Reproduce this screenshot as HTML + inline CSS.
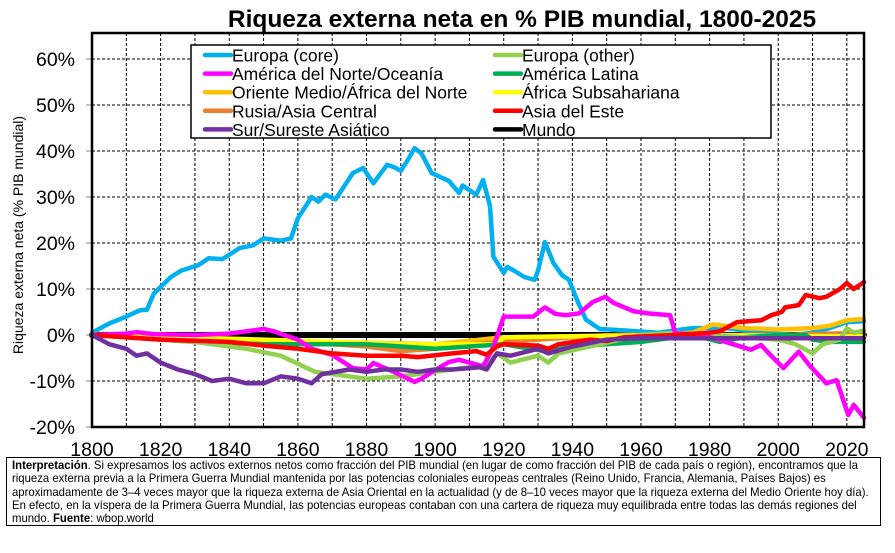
<!DOCTYPE html>
<html><head><meta charset="utf-8">
<style>
html,body{margin:0;padding:0;background:#fff;width:895px;height:553px;overflow:hidden}
svg{position:absolute;left:0;top:0}
text{font-family:"Liberation Sans",sans-serif}
#note{position:absolute;left:6px;top:457px;width:875px;height:69px;border:1.5px solid #000;box-sizing:border-box;overflow:hidden}
#noteInner{position:absolute;left:5px;top:1px;width:940px;transform-origin:0 0;transform:scaleX(0.945);font-family:"Liberation Sans",sans-serif;font-size:12px;line-height:13.3px;color:#000;white-space:nowrap}
</style></head>
<body>
<svg id="chart" width="895" height="553"></svg>
<div id="note"><div id="noteInner"><b>Interpretación</b>. Si expresamos los activos externos netos como fracción del PIB mundial (en lugar de como fracción del PIB de cada país o región), encontramos que la<br>riqueza externa previa a la Primera Guerra Mundial mantenida por las potencias coloniales europeas centrales (Reino Unido, Francia, Alemania, Países Bajos) es<br>aproximadamente de 3–4 veces mayor que la riqueza externa de Asia Oriental en la actualidad (y de 8–10 veces mayor que la riqueza externa del Medio Oriente hoy día).<br>En efecto, en la víspera de la Primera Guerra Mundial, las potencias europeas contaban con una cartera de riqueza muy equilibrada entre todas las demás regiones del<br>mundo. <b>Fuente</b>: wbop.world</div></div>
<script>
const xTicks=[1800,1820,1840,1860,1880,1900,1920,1940,1960,1980,2000,2020];
const yTicks=[-20,-10,0,10,20,30,40,50,60];
const seriesNames=["Mundo","Europa (core)","América del Norte/Oceanía","Oriente Medio/África del Norte","Rusia/Asia Central","África Subsahariana","América Latina","Europa (other)","Asia del Este","Sur/Sureste Asiático"];
const seriesColors=["#000000","#00b0f0","#ff00ff","#ffc000","#ed7d31","#ffff00","#00b050","#92d050","#ff0000","#7030a0"];
const mundoYears=[1800,2025];
const mundoVals=[0,0];
const eurYears=[1800,1805,1810,1814,1816,1818,1823,1826,1831,1834,1838,1843,1847,1850,1855,1858,1860,1864,1866,1868,1871,1876,1879,1882,1886,1888,1890,1892,1894,1896,1899,1904,1907,1908,1912,1914,1916,1917,1920,1921,1923,1926,1929,1930,1932,1934.5,1937,1939,1941.7,1944,1948,1955,1965,1975,1985,1995,2005,2010,2015,2020,2025];
const eurVals=[0.5,2.5,4,5.4,5.5,9,12.6,14,15.2,16.7,16.5,18.9,19.5,21,20.5,21,25.4,30,29,30.5,29.5,35.2,36.3,33,37,36.5,35.7,38,40.6,39.5,35.2,33.5,30.9,32.5,30.5,33.7,28,17,13.5,14.8,14,12.6,12,14,20.2,15.6,13,12,7,3.3,1.3,1,0.5,1.5,1.5,0.5,0,0.5,1.5,2.8,3];
const namYears=[1800,1810,1813,1818,1830,1840,1845,1850,1853,1856,1860,1864,1870,1876,1880,1882,1888,1894,1896,1901,1904,1907,1914,1917,1920,1928.6,1932,1935,1938,1942,1946,1949.6,1952,1957.7,1962,1968.5,1970,1978,1986,1992,1995,1997.7,2001.5,2006,2009,2014,2017,2020.4,2022,2025];
const namVals=[0,0.3,0.6,0.2,0,0.3,0.8,1.3,0.8,0,-1,-3,-4.3,-7.2,-7.5,-6.1,-8,-10.2,-9.5,-7.2,-5.9,-5.4,-6.8,-2.6,4,4,6,4.6,4.3,4.7,7.2,8.3,7,5.2,4.7,4.3,0.4,0,-1.8,-3.2,-2.2,-4.3,-7.2,-3.6,-6.5,-10.5,-9.8,-17.4,-15.2,-18];
const meYears=[1800,1850,1900,1920,1960,1975,1981,1990,2000,2010,2015,2020,2025];
const meVals=[0,-1.2,-2,-0.5,0,0.5,2.3,1.5,1.2,1.5,2,3.2,3.5];
const rusYears=[1800,1850,1860,1870,1880,1890,1900,1910,1920,1930,1950,2000,2025];
const rusVals=[0,-1.5,-2,-2,-2.5,-3.5,-3,-2,-1.5,-1,0,0,0.5];
const afrYears=[1800,1850,1890,1910,1918,1920,1970,2025];
const afrVals=[0,-1,-2,-2,-2,-0.5,0,-0.3];
const latYears=[1800,1830,1850,1880,1900,1910,1920,1932,1940,1960,1975,1983,1990,2000,2008,2010,2015,2025];
const latVals=[0,-1.5,-2,-2,-3,-2.5,-2,-3.5,-2.5,-1.5,0,-1.5,-0.5,0,0,-1,-1.5,-1.5];
const eoYears=[1800,1830,1845,1855,1865,1875,1880,1890,1900,1905,1915,1918,1922,1930,1933,1936,1945,1960,1970,1980,2000,2005,2010,2013,2018,2020,2022,2025];
const eoVals=[0,-1.5,-3,-4.5,-8,-9,-9.5,-9,-8,-7.5,-6.5,-4,-6,-4.5,-6,-4,-2.5,0,0.5,0,-1,-2,-4,-2,-1,1.5,0.5,1];
const easYears=[1800,1820,1840,1850,1860,1870,1880,1890,1895,1905,1912,1915,1918,1920,1930,1933,1936,1945,1950,1955,1970,1980,1983,1988,1995,1998,2001,2002,2006,2008,2012,2014,2018,2020,2022,2025];
const easVals=[0,-1,-1.5,-2.3,-3,-4,-4.5,-4.5,-4.8,-4,-3.5,-4.3,-2.5,-2,-2.3,-3,-2,-1,-1.3,-0.5,0,0.5,0.8,2.8,3.2,4.3,5,6,6.5,8.7,8,8.3,10,11.3,10,11.5];
const ssaYears=[1800,1805,1810,1813,1816,1820,1825,1830,1835,1840,1845,1850,1855,1860,1864,1867,1875,1880,1885,1890,1895,1900,1905,1913,1915,1918,1922,1930,1933,1940,1950,1960,1970,2025];
const ssaVals=[0,-2,-3,-4.5,-4,-6,-7.5,-8.5,-10,-9.5,-10.5,-10.5,-9,-9.5,-10.5,-8.5,-7.5,-8,-7.5,-7.5,-8,-7.5,-7.5,-7,-7.5,-4,-4.5,-3,-4,-2.5,-1,-0.7,-0.7,-0.7];

const NS="http://www.w3.org/2000/svg";
const svg=document.getElementById('chart');
const L=92,R=864,T=33,B=427;
const xS=y=>L+(y-1800)*(R-L)/225;
const yS=v=>335-v*4.6;
function mk(tag,attrs,parent){const e=document.createElementNS(NS,tag);for(const k in attrs)e.setAttribute(k,attrs[k]);(parent||svg).appendChild(e);return e;}

const title=mk('text',{x:522,y:27,'text-anchor':'middle','font-size':'24.5','font-weight':'bold'});
title.textContent="Riqueza externa neta en % PIB mundial, 1800-2025";



const grid=mk('g',{stroke:'#000','stroke-width':'1','stroke-dasharray':'3,2'});


for(let y=1810;y<=2020;y+=10){mk('line',{x1:xS(y),x2:xS(y),y1:T,y2:B},grid);}
for(let v=-10;v<=60;v+=10){if(v===0)continue;mk('line',{x1:L,x2:R,y1:yS(v),y2:yS(v)},grid);}

const yl=mk('g',{});


yTicks.forEach(v=>{const t=mk('text',{x:75,y:yS(v)+7,'text-anchor':'end','font-size':'19.5'},yl);t.textContent=v+'%';


mk('line',{x1:L-6,x2:L,y1:yS(v),y2:yS(v),stroke:'#888','stroke-width':1},yl);});
const xl=mk('g',{});


xTicks.forEach(y=>{const t=mk('text',{x:xS(y),y:456,'text-anchor':'middle','font-size':'19.5'},xl);t.textContent=y;

});

const ytitle=mk('text',{x:0,y:0,'text-anchor':'middle','font-size':'14',transform:'translate(23,235) rotate(-90)'});
ytitle.textContent="Riqueza externa neta (% PIB mundial)";



const allYears=[mundoYears,eurYears,namYears,meYears,rusYears,afrYears,latYears,eoYears,easYears,ssaYears];
const allVals=[mundoVals,eurVals,namVals,meVals,rusVals,afrVals,latVals,eoVals,easVals,ssaVals];
const slugs=['mundo','europa-core','america-norte-oceania','oriente-medio','rusia-asia-central','africa-subsahariana','america-latina','europa-other','asia-este','sur-sureste-asiatico'];
const order=[0,1,3,4,5,6,7,2,8,9];
order.forEach(i=>{
  const pts=allYears[i].map((y,j)=>xS(y).toFixed(1)+','+yS(allVals[i][j]).toFixed(1)).join(' ');
  const p=mk('polyline',{points:pts,fill:'none',stroke:seriesColors[i],'stroke-width':i===0?6:4.5,'stroke-linejoin':'round','stroke-linecap':'round'});
  
  
});

mk('rect',{x:L,y:T,width:R-L,height:B-T,fill:'none',stroke:'#000','stroke-width':2.5});

const lg=mk('g',{});


mk('rect',{x:191,y:45,width:580,height:93,fill:'#fff',stroke:'#000','stroke-width':1.5},lg);
const legOrder=[[1,7],[2,6],[3,5],[4,8],[9,0]];
legOrder.forEach((pair,r)=>{
  pair.forEach((si,c)=>{
    const x0=c===0?205:495, y0=55+r*18.6;
    mk('line',{x1:x0,x2:x0+26,y1:y0,y2:y0,stroke:seriesColors[si],'stroke-width':4.5,'stroke-linecap':'round'},lg);
    const t=mk('text',{x:x0+27,y:y0+6.5,'font-size':'17.5'},lg);
    t.textContent=seriesNames[si];
    
    
  });
});
</script>
</body></html>
